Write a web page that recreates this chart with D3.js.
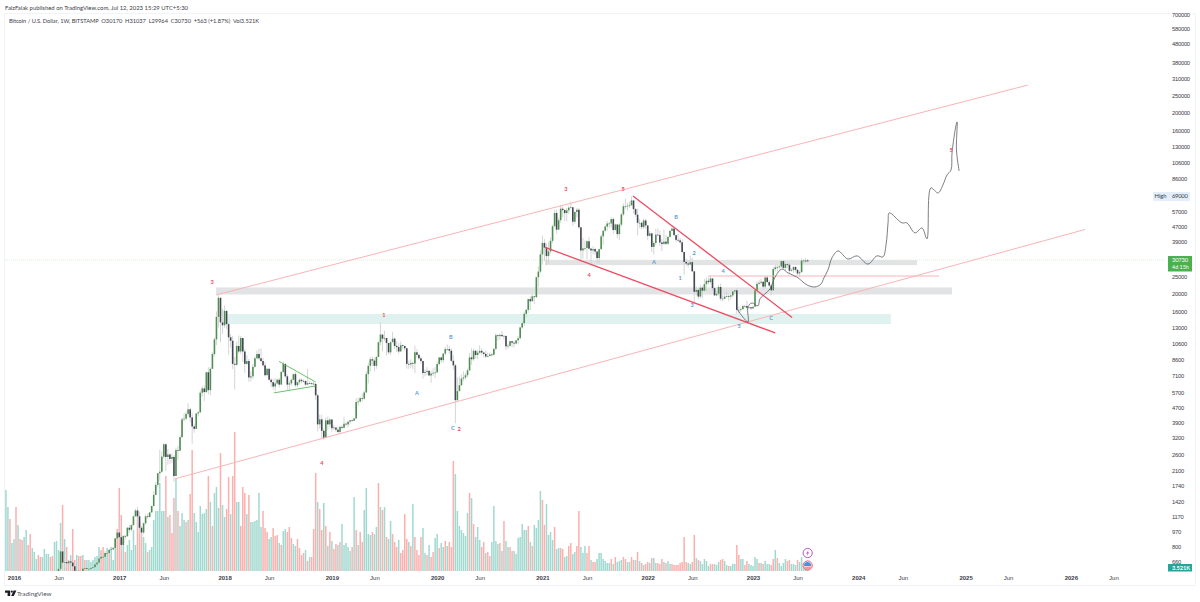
<!DOCTYPE html>
<html>
<head>
<meta charset="utf-8">
<script src="https://cdnjs.cloudflare.com/ajax/libs/d3/7.8.5/d3.min.js"></script>
<style>
html,body{margin:0;padding:0;background:#fff;}
svg{display:block;font-family:"Lato","Open Sans",sans-serif;}
</style>
</head>
<body>
<svg id="chart" width="1200" height="602"></svg>
<script>
// Weekly BTC/USD bars, one entry per week beginning Mon 7 Dec 2015.
const closes = [
462,455,422,431,449,380,397,370,377,405,
438,430,407,412,411,417,418,420,424,458,
450,459,456,440,470,575,605,755,655,660,
650,665,655,625,590,590,580,575,607,610,
605,605,612,618,640,655,690,705,705,740,
740,770,775,790,890,960,905,820,920,915,
1020,995,1055,1180,1270,1180,1020,960,1080,1180,
1170,1240,1345,1550,1760,2040,2080,2520,2950,2510,
2590,2450,2510,1970,2740,2720,3230,4050,4090,4340,
4600,4150,3700,3590,4360,4430,5680,6000,5730,7370,
5870,7700,9300,11200,14900,19000,13900,13400,16100,13600,
11500,11000,8200,8100,10300,9600,11400,9600,8200,8500,
6900,7000,7900,8800,9300,8800,8500,8050,7100,7700,
6700,6500,6150,6400,6700,6300,7400,8200,7000,6300,
6400,6700,7200,6250,6500,6700,6600,6590,6300,6420,
6410,6370,6350,5500,3800,4050,3500,3200,4000,3800,
4040,3620,3650,3550,3450,3680,3640,3830,3800,3930,
4000,3980,4100,5050,5080,5300,5270,5700,7200,8000,
8700,8550,8000,8950,10800,11900,11300,11400,10700,9500,
10800,11300,10300,10150,9600,10400,10300,10000,8200,8150,
8300,8230,9500,9200,8800,8500,7300,7400,7500,7080,
7250,7320,7350,8180,8900,8600,9350,9900,9900,9700,
8530,8050,5170,5800,6250,6800,6900,7100,7550,8900,
8700,9680,9180,9450,9680,9470,9300,9010,9070,9240,
9210,9930,11800,11680,11850,11660,11710,10250,10320,10940,
10730,10620,11070,11370,13030,13760,15500,16300,18680,18180,
19350,19170,24700,26500,33000,38200,36000,32300,34300,39200,
47200,55900,45200,51000,59000,58000,55800,57800,59800,60100,
50000,56600,58200,46600,34700,35600,35800,39000,35500,34700,
35300,34200,31500,35300,41500,44600,47000,48900,48900,51700,
45000,48300,42700,48200,54900,60900,61000,61300,61500,65500,
58700,54700,49300,49300,46700,50800,47700,41800,43100,36300,
38200,42400,42200,38400,37700,38800,37800,41200,44500,45800,
42150,39700,39400,38500,34000,30000,29400,29000,29900,26600,
20500,21000,19300,21600,20800,22600,23600,23200,24300,21500,
19600,20000,21800,18800,18800,19300,19400,19300,19600,20600,
20900,16300,16300,16450,17100,17100,16750,16840,16600,16950,
20900,22700,23000,23300,21900,24600,23200,22200,20900,27400,
28000,28000,28300,30300,27800,29200,28900,26800,27100,28100,
27100,25900,26300,30500,30500,30170,30730];

const highs = [
465,470,465,435,462,450,415,400,395,410,
450,445,440,425,420,420,425,425,430,465,
470,465,465,460,480,590,610,785,775,705,
680,680,670,660,625,600,590,585,610,625,
612,610,615,622,645,660,695,745,715,760,
755,780,780,795,895,975,1150,920,925,925,
1030,1060,1060,1190,1300,1330,1250,1040,1090,1210,
1220,1240,1350,1620,1820,2050,2750,2700,3000,2980,
2780,2650,2620,2570,2830,2900,3300,4150,4400,4470,
4980,4690,4370,3830,4400,4500,5870,6170,6230,7420,
7880,7850,9500,11500,16000,19650,19100,16500,17250,14950,
13800,12000,11700,8950,10900,11750,11700,11100,9900,9170,
8740,7480,8200,9050,9740,9950,9990,8880,8400,7790,
7780,6830,6800,6800,6800,6860,7480,8470,8240,7170,
6600,6800,7250,7400,6540,6800,6800,6740,6640,7700,
6590,6480,6520,6480,5590,4300,4300,3600,4150,4200,
4120,4050,3780,3650,3670,3730,3740,4190,3900,3970,
4020,4050,4120,5300,5340,5400,5630,5840,7450,8340,
8950,9000,8800,9080,10900,13880,11920,12500,11100,10650,
10900,12320,11500,10950,10700,10900,10500,10220,10050,8550,
8700,8420,10350,9880,9250,9020,8540,7680,7870,7620,
7520,7750,7870,8440,8900,8980,9400,10180,10500,10300,
9990,9180,8190,6900,6970,7190,7450,7300,7720,9400,
9990,9950,9840,9780,10400,10000,9590,9750,9480,9480,
9400,9970,12130,11900,12090,12470,11780,11510,10590,11050,
10990,10930,11100,11640,13200,14100,15970,16480,18800,19400,
19900,19400,24800,28400,34800,41900,40100,37800,38600,40900,
48200,58300,58300,52600,61800,60600,58400,59500,61200,64800,
57500,57000,59500,59500,46000,40800,39400,39500,41300,35800,
36600,35900,34500,35400,42600,44700,48100,50500,49800,52900,
52700,48800,48100,49200,55700,62900,67000,63700,64300,69000,
66300,59400,59100,51900,50100,52100,51900,47600,44400,43500,
38900,45800,45800,44700,40100,45300,42300,41500,45000,47400,
47000,42400,42900,40800,40000,34200,31400,30600,32400,31700,
26900,21900,21500,22400,22000,24200,24600,24600,25200,24400,
21800,20600,22400,22800,19700,20300,20500,20000,19700,20700,
21000,21400,17000,16800,17400,17400,18300,17000,16900,17000,
21300,23400,23800,24200,23400,25200,25100,23800,22600,28000,
28900,29000,28800,30500,30500,30000,29700,29800,27700,28400,
28400,27400,26800,31400,31000,31500,31037];

const lows = [
410,430,415,415,425,360,350,360,360,370,
400,395,405,370,405,400,410,415,415,420,
440,440,445,435,440,465,565,605,520,610,
610,640,650,615,540,580,570,570,572,600,
600,590,600,605,615,635,650,680,695,700,
725,735,755,770,785,880,880,760,815,880,
915,960,975,1050,1170,1010,950,890,940,1060,
1140,1160,1240,1340,1540,1700,1850,2050,2440,2100,
2270,2300,2330,1830,2000,2420,2700,3210,3960,3990,
4200,3900,2970,3420,3600,4200,4400,5400,5100,5670,
5570,5500,7680,9010,10400,13000,10800,12000,13000,12800,
9200,10100,7670,5920,8000,9300,9300,8400,7300,8100,
6530,6570,6750,7800,8700,8600,8350,7900,7000,7100,
6650,6100,5920,5780,6300,6070,6300,7300,6900,5880,
5900,6220,6660,6100,6100,6300,6400,6480,6200,6250,
6370,6250,6300,5190,3470,3600,3150,3120,3200,3550,
3650,3450,3530,3450,3360,3390,3560,3600,3740,3650,
3800,3930,3960,4050,4820,5020,5070,5190,5670,6400,
7450,8000,7450,7700,8950,10400,9600,11000,9100,9250,
9150,10800,9900,9500,9320,10050,9900,9700,7710,7700,
7800,7670,7300,8900,8600,8200,6800,7000,7100,7000,
6430,7050,6850,7660,8000,8300,8270,9100,9700,9300,
8400,7620,3850,5100,5800,6200,6600,6700,6900,7500,
8100,8500,8800,8700,9300,9200,8900,8800,8900,9050,
9050,9130,9800,11000,11150,11600,11150,9800,9900,10210,
10130,10100,10520,10500,11200,12800,13240,14800,15700,16200,
18200,17600,19000,21800,26000,29000,30300,28800,29200,33400,
38000,47000,43000,47000,49300,53000,50400,50200,55300,59000,
47500,48800,52900,45700,30000,31200,34600,31000,34900,28800,
33000,32700,29500,29500,35000,37300,43700,44400,46300,46500,
42800,44700,40600,39600,47000,53900,59000,57400,59600,62800,
55700,53300,42000,46000,45500,45500,45700,39500,41300,34000,
32900,37200,41700,36800,34400,37200,37100,37100,40900,44800,
42000,38500,38600,37600,33700,25400,28600,28000,29300,26500,
17600,19600,18600,18900,18900,20700,20700,22500,22700,20900,
19500,19500,19600,18300,18100,18600,19100,18200,18600,19100,
20100,15500,15500,15800,16300,16700,16300,16400,16300,16500,
16900,20400,22300,22500,21400,21400,23100,21900,19600,20800,
26600,26500,27200,27800,27100,26900,27700,25800,26500,26100,
26500,25400,24800,26300,29500,29700,29964];

// Weekly volume in thousands of BTC; the sign carries the bar's direction (negative = down week).
const signedVolumes = [
81,64,-52,28,32,-64,46,-32,-31,34,
41,-26,-37,23,19,12,-16,-14,14,22,
17,17,-14,-15,29,30,21,48,-66,32,
-24,-11,16,-42,-11,16,-15,-15,16,-11,
11,11,9,11,14,15,24,-21,-24,18,
23,-18,24,11,33,-42,-83,-56,31,-19,
26,31,21,41,26,-61,-49,-38,34,28,
-19,21,24,51,60,60,88,60,60,-95,
54,-56,-38,-73,92,-60,45,58,51,-49,
51,-77,-121,58,49,39,65,57,58,62,
-95,69,-45,78,84,63,-118,66,54,-62,
-94,57,-95,-139,69,69,-45,-84,-78,57,
-76,49,49,50,51,78,44,-60,-43,-39,
32,34,-43,-35,-36,28,-26,40,42,-39,
-44,-33,27,25,-32,
-23,-16,-18,21,-10,14,-14,-42,-98,69,
-62,-41,68,-45,25,-39,30,-22,-27,26,
-29,47,26,28,24,20,-24,74,-41,26,
-39,-29,61,83,37,36,-39,37,44,-88,
64,-61,64,-34,32,50,-37,-29,-24,31,
-18,-21,-57,-32,29,-25,67,-34,-21,-16,
-34,43,18,-16,26,-14,-19,33,37,-23,
28,24,-30,25,-29,-24,-110,97,60,45,
41,38,35,58,-78,73,-47,34,44,31,
-24,-29,18,-19,-15,29,65,30,27,-28,
20,-50,30,24,-24,-20,20,17,33,34,
47,41,41,-45,29,-25,46,43,51,80,
-71,-46,67,36,39,31,-44,22,23,-23,
-22,14,15,-25,-28,17,19,-25,-60,24,
18,25,-18,-25,11,-9,-9,12,
18,18,12,10,8,8,-12,7,-14,9,
10,11,-14,-12,9,9,-14,-11,11,-19,
10,-8,6,-7,-9,8,-13,13,8,-8,
-7,-12,9,-8,10,7,-7,-6,-6,-6,
-8,-9,-34,-9,8,7,-9,-36,13,-11,
10,7,12,10,5,-7,-7,7,6,9,
-11,-12,10,6,-5,5,7,7,-26,-16,
12,12,-6,-10,7,6,5,14,12,-8,
8,-7,10,7,7,-6,-12,21,-13,8,
5,8,12,-10,-11,7,7,6,-11,9,
14,8,6,3.521];

const priceTicks = [700000,580000,480000,380000,310000,250000,200000,160000,130000,106000,86000,69000,57000,47000,39000,25000,20000,16000,13000,10600,8600,7100,5700,4700,3900,3200,2600,2100,1740,1420,1170,970,800,660];

const timeTickDates = ["2016-01-04","2016-06-06","2017-01-02","2017-06-05","2018-01-01","2018-06-04","2019-01-07","2019-06-03","2020-01-06","2020-06-01","2021-01-04","2021-06-07","2022-01-03","2022-06-06","2023-01-02","2023-06-05","2024-01-01","2024-06-03","2025-01-06","2025-06-02","2026-01-05","2026-06-01"];
const timeTickLabels = ["2016","Jun","2017","Jun","2018","Jun","2019","Jun","2020","Jun","2021","Jun","2022","Jun","2023","Jun","2024","Jun","2025","Jun","2026","Jun"];

// Trend drawings: each anchor is [weeks since 4 Jan 2016, price].
const upperChannel = [[99.8,19700],[500.8,284400]];
const lowerChannel = [[79.5,1900],[529,45300]];
const wedgeTop = [[305.7,69400],[384.3,14800]];
const wedgeBottom = [[262.3,36100],[376,12160]];
const resistanceLine = [[342.8,25070],[456.9,25070]];
const triangleTop = [[130.9,8460],[148.9,6520]];
const triangleBottom = [[128.4,5670],[148.9,6190]];

// Shaded price zones: [first week, last week, top price, bottom price].
const greyZoneUpper = [262.3,446,30700,28800];
const greyZoneLower = [99.8,463.3,21690,19820];
const tealZone = [103.7,433.1,15470,13620];

// Hand-drawn projection of the next impulse.
const projection = [[357.1,16490],[362.5,13980],[362.5,16910],[364.5,17810],[367.5,17140],[368.4,18730],[373.4,21270],[375.9,24740],[379.3,27400],[382.3,26060],[386.7,24740],[391.7,22360],[395.6,21810],[398.6,22650],[400,24450],[402,27040],[404,31580],[407,34500],[411.9,31100],[416.4,32390],[421.8,29170],[426.2,32390],[429.2,31970],[430.7,37230],[431.7,49260],[432.2,55900],[433.6,55160],[435.1,53100],[438.6,49260],[441,49260],[445,43370],[448.5,46200],[450.9,40200],[452.9,76800],[456.4,72100],[458.8,79730],[460.8,90560],[462.8,96500],[463.3,119900],[465.3,171000],[465.8,177900],[465.5,124500],[466.8,95400]];

// Elliott wave counts: [week, price, label].
const redCounts = [[97.8,23260,"3"],[182.7,15270,"1"],[219.8,3590,"2"],[272.6,75800,"3"],[300.8,75800,"5"],[284,25370,"4"],[152.1,2330,"4"],[462.8,124500,"5"]];
const blueCounts = [[199,5670,"A"],[215.8,11550,"B"],[216.8,3640,"C"],[316.1,29950,"A"],[327,53100,"B"],[329,24440,"1"],[335.9,33670,"2"],[334.9,17340,"3"],[350.2,26700,"4"],[358.1,13290,"5"],[373.9,14710,"C"]];

const lastPrice = 30730, athPrice = 69000;

const COL = {up:"#4f8f52", down:"#434752", wick:"#cfd0d4", volUp:"#a0d9d0", volDown:"#fbb0ae",
             pink:"#f9b4b8", red:"#ee4b62", green:"#5cb85c", grey:"#e2e3e5", teal:"#e0f2ef",
             text:"#3c4048", border:"#f0f3fa", blue:"#5b9bd5"};

const epochMs = Date.UTC(2016,0,4), weekMs = 7*864e5;
const weekDate = w => new Date(epochMs + w*weekMs);

const x = d3.scaleUtc().domain([new Date("2016-01-04"), new Date("2023-01-02")]).range([14,753]);
const y = d3.scaleLog().domain([580000,660]).range([29,562]);
const vol = d3.scaleLinear().domain([0,140]).range([571,431]);
const X = w => x(weekDate(w));

const svg = d3.select("#chart");

svg.append("defs").append("clipPath").attr("id","pane").append("rect")
  .attr("x",5).attr("y",13).attr("width",1160).attr("height",558);
svg.select("defs").append("clipPath").attr("id","scale").append("rect")
  .attr("x",1166).attr("y",13).attr("width",29).attr("height",572);

// Publication line and pane frame.
svg.append("text").attr("x",5).attr("y",9.5).attr("font-size",5.9).attr("fill",COL.text)
  .attr("textLength",183).attr("lengthAdjust","spacing")
  .text("FaizFalak published on TradingView.com, Jul 12, 2023 15:29 UTC+5:30");
svg.append("g").attr("fill","none").attr("stroke",COL.border)
  .append("path").attr("d","M4.5 13.5H1195.5V585.5H4.5Z");
svg.append("text").attr("x",9).attr("y",23).attr("font-size",5.7).attr("fill",COL.text)
  .attr("xml:space","preserve").style("white-space","pre")
  .attr("textLength",250).attr("lengthAdjust","spacing")
  .text("Bitcoin / U.S. Dollar, 1W, BITSTAMP  O30170  H31037  L29964  C30730  +563 (+1.87%)  Vol3.521K");

const pane = svg.append("g").attr("clip-path","url(#pane)");

// Volume histogram sits behind everything else.
pane.append("g").selectAll("rect").data(signedVolumes).join("rect")
  .attr("x",(v,i)=>X(i-4)-0.75).attr("width",1.5)
  .attr("y",v=>vol(Math.abs(v))).attr("height",v=>vol(0)-vol(Math.abs(v)))
  .attr("fill",v=>v<0?COL.volDown:COL.volUp);

// Price zones.
const zone = (z,c) => pane.append("rect")
  .attr("x",X(z[0])).attr("width",X(z[1])-X(z[0]))
  .attr("y",y(z[2])).attr("height",y(z[3])-y(z[2])).attr("fill",c);
zone(greyZoneUpper,COL.grey);
zone(greyZoneLower,COL.grey);
zone(tealZone,COL.teal);

// Dotted last-price line.
pane.append("line").attr("x1",5).attr("x2",1165).attr("y1",y(lastPrice)).attr("y2",y(lastPrice))
  .attr("stroke","#cfe8cf").attr("stroke-width",0.7).attr("stroke-dasharray","1 1");

// Candles.
const candles = closes.map((c,i)=>({w:i-4,o:i?closes[i-1]:c,c,h:highs[i],l:lows[i]}));
const cg = pane.append("g");
cg.selectAll("line").data(candles).join("line")
  .attr("x1",d=>X(d.w)).attr("x2",d=>X(d.w)).attr("y1",d=>y(d.h)).attr("y2",d=>y(d.l))
  .attr("stroke",COL.wick).attr("stroke-width",0.9);
cg.selectAll("rect").data(candles).join("rect")
  .attr("x",d=>X(d.w)-0.8).attr("width",1.6)
  .attr("y",d=>y(Math.max(d.o,d.c)))
  .attr("height",d=>Math.max(0.7,Math.abs(y(d.o)-y(d.c))))
  .attr("fill",d=>d.c>=d.o?COL.up:COL.down);

// Straight drawings.
const seg = d3.line().x(d=>X(d[0])).y(d=>y(d[1]));
const draw = (pts,c,w) => pane.append("path").attr("d",seg(pts)).attr("fill","none").attr("stroke",c).attr("stroke-width",w);
draw(upperChannel,COL.pink,1);
draw(lowerChannel,COL.pink,1);
draw(resistanceLine,COL.pink,1);
draw(wedgeTop,COL.red,1.3);
draw(wedgeBottom,COL.red,1.3);
draw(triangleTop,COL.green,0.9);
draw(triangleBottom,COL.green,0.9);

// Forecast path.
pane.append("path").datum(projection)
  .attr("d",d3.line().x(d=>X(d[0])).y(d=>y(d[1])).curve(d3.curveCatmullRom.alpha(0.5)))
  .attr("fill","none").attr("stroke","#5a5d63").attr("stroke-width",0.8);

// Wave count labels.
const labels = (arr,c) => pane.append("g").selectAll("text").data(arr).join("text")
  .attr("x",d=>X(d[0])).attr("y",d=>y(d[1])+2).attr("text-anchor","middle")
  .attr("font-size",5.6).attr("font-weight",700).attr("fill",c).text(d=>d[2]);
labels(redCounts,COL.red);
labels(blueCounts,COL.blue);

// Time axis.
const tickDates = timeTickDates.map(s=>new Date(s));
const xAxis = d3.axisBottom(x).tickValues(tickDates).tickSize(0).tickPadding(5)
  .tickFormat(d=>timeTickLabels[timeTickDates.indexOf(d.toISOString().slice(0,10))]);
const gx = svg.append("g").attr("transform","translate(0,571)").call(xAxis);
gx.select(".domain").remove();
gx.selectAll("text").attr("font-family","inherit").attr("font-size",6).attr("fill",COL.text)
  .attr("font-weight",d=>d.getUTCMonth()===0?700:400);

// Price axis.
const yAxis = d3.axisRight(y).tickValues(priceTicks).tickSize(0).tickPadding(0).tickFormat(d3.format("d"));
const gy = svg.append("g").attr("clip-path","url(#scale)").append("g").attr("transform","translate(1172,0)").call(yAxis);
gy.select(".domain").remove();
gy.selectAll("text").attr("font-family","inherit").attr("font-size",5.8).attr("letter-spacing",-0.25).attr("fill",COL.text);

// All-time-high tag.
const yHigh = y(athPrice);
svg.append("rect").attr("x",1153).attr("y",yHigh-4.5).attr("width",37).attr("height",9).attr("fill","#e3eefb");
svg.append("text").attr("x",1154.5).attr("y",yHigh+2).attr("font-size",5.8).attr("fill",COL.text).text("High");
svg.append("text").attr("x",1172).attr("y",yHigh+2).attr("font-size",5.8).attr("letter-spacing",-0.25).attr("fill",COL.text).text(d3.format("d")(athPrice));

// Last-price tag with bar countdown.
const yLast = y(lastPrice);
svg.append("rect").attr("x",1168).attr("y",yLast-4).attr("width",24).attr("height",15.5).attr("fill","#4caf50");
svg.append("text").attr("x",1172).attr("y",yLast+2).attr("font-size",5.8).attr("letter-spacing",-0.2).attr("fill","#fff").text(d3.format("d")(lastPrice));
svg.append("text").attr("x",1172).attr("y",yLast+9).attr("font-size",5.4).attr("fill","#fff").text("4d 15h");

// Current-volume tag.
svg.append("rect").attr("x",1168).attr("y",564).attr("width",24).attr("height",7.5).attr("fill","#26a69a");
svg.append("text").attr("x",1172).attr("y",570).attr("font-size",5.6).attr("font-weight",700).attr("fill","#fff").text("3.521K");

// Event markers above the last bars.
const ix = X(392);
const ev = svg.append("g");
ev.append("circle").attr("cx",ix).attr("cy",553).attr("r",4.6).attr("fill","#fff").attr("stroke","#ab47bc").attr("stroke-width",0.9);
ev.append("path").attr("d",`M${ix+1} ${550} L${ix-1.5} ${553.5} L${ix} ${553.5} L${ix-1} ${556} L${ix+1.5} ${552.4} L${ix} ${552.4} Z`).attr("fill","#ab47bc");
ev.append("circle").attr("cx",ix).attr("cy",565.5).attr("r",4.6).attr("fill","#f4f4f4").attr("stroke","#f0505f").attr("stroke-width",0.9);
ev.append("path").attr("d",`M${ix-3.6} ${566} A3.6 3.6 0 0 1 ${ix+3.4} ${564.5} L${ix+3.6} ${566} Z`).attr("fill","#4a90e2");
ev.append("path").attr("d",`M${ix-3.4} ${567.2}H${ix+3.4}M${ix-2.6} ${568.8}H${ix+2.6}`).attr("stroke","#f0505f").attr("stroke-width",0.8);

// Brand mark.
svg.append("path").attr("d","M5 590.5H10.2V596H7.6V592.8H5ZM13.6 590.5H16.4L13.8 596H11.2Z").attr("fill","#1b1e27");
svg.append("circle").attr("cx",11.8).attr("cy",591.6).attr("r",1.1).attr("fill","#1b1e27");
svg.append("text").attr("x",17).attr("y",596.3).attr("font-size",6.4).attr("fill","#50535e").text("TradingView");
</script>
</body>
</html>
